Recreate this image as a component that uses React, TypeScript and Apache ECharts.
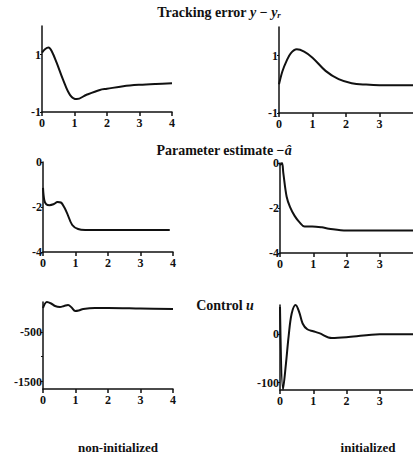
import React, { useEffect, useRef } from "react";
import * as echarts from "echarts";

// x (time) ticks
const xTicksLeft = [0, 1, 2, 3, 4];
const xTicksRight = [0, 1, 2, 3];

// Tracking error y - y_r, non-initialized
const trackNonT = [0, 0.1, 0.2, 0.3, 0.45, 0.65, 0.86, 1.07, 1.37, 1.78, 2.0, 2.5, 3.0, 3.5, 4.0];
const trackNonV = [1.07, 1.2, 1.25, 1.12, 0.72, 0.12, -0.4, -0.55, -0.4, -0.23, -0.19, -0.1, -0.05, -0.02, 0.0];

// Tracking error, initialized
const trackInitT = [0, 0.1, 0.22, 0.35, 0.53, 0.75, 1.0, 1.39, 1.78, 2.17, 2.6, 3.0, 3.5, 4.0];
const trackInitV = [0, 0.45, 0.8, 1.08, 1.22, 1.14, 0.93, 0.47, 0.18, 0.04, -0.01, -0.03, -0.03, -0.03];

// Parameter estimate -a_hat, non-initialized
const paramNonT = [0, 0.04, 0.1, 0.2, 0.32, 0.45, 0.55, 0.65, 0.74, 0.9, 1.08, 1.3, 2, 3, 3.9];
const paramNonV = [-1.15, -1.7, -1.88, -1.92, -1.88, -1.78, -1.8, -2.0, -2.27, -2.8, -2.98, -3.02, -3.02, -3.02, -3.02];

// Parameter estimate, initialized
const paramInitT = [0, 0.06, 0.1, 0.2, 0.3, 0.44, 0.59, 0.74, 0.97, 1.26, 1.47, 2, 3, 4];
const paramInitV = [-0.1, 0, -0.45, -1.5, -1.95, -2.35, -2.64, -2.82, -2.82, -2.86, -2.92, -3.0, -3.0, -3.0];

// Control u, non-initialized
const ctrlNonT = [0, 0.12, 0.25, 0.37, 0.52, 0.65, 0.77, 0.88, 0.99, 1.1, 1.24, 1.6, 2, 3, 4];
const ctrlNonV = [-20, 100, 70, 20, 0, 20, 40, -10, -80, -70, -40, -20, -20, -30, -40];

// Control u, initialized
const ctrlInitT = [0, 0.09, 0.18, 0.26, 0.35, 0.47, 0.58, 0.68, 0.82, 1.0, 1.18, 1.56, 2.06, 3, 4];
const ctrlInitV = [56, -114, -60, -4, 42, 60, 45, 22, 10, 6, 2, -8, -6, 0, 0];

// y tick labels
const yTrackTicks = [-1, 1];
const yParamTicks = [-4, -2, 0];
const yCtrlNonTicks = [-1500, -500];
const yCtrlNonTickMarks = [-1500, -1000, -500];
const yCtrlInitTicks = [-100, 0];

const titles = ["Tracking error", "Parameter estimate", "Control"];
const bottomLabels = ["non-initialized", "initialized"];

const INK = "#111";
const FONT = "'Liberation Serif', 'DejaVu Serif', serif";

function pairs(t: number[], v: number[]) {
  return t.map((x, i) => [x, v[i]]);
}

export default function App() {
  const ref = useRef<HTMLDivElement>(null);

  useEffect(() => {
    if (!ref.current) return;
    const chart = echarts.init(ref.current, undefined, { renderer: "svg" });

    const grids = [
      { left: 42, top: 26, width: 130, height: 86 },
      { left: 279, top: 27, width: 137, height: 86 },
      { left: 43, top: 162, width: 130, height: 90 },
      { left: 280, top: 163, width: 137, height: 90 },
      { left: 43, top: 302, width: 130, height: 87 },
      { left: 280, top: 305, width: 136, height: 85 },
    ];

    const yDefs = [
      { min: -1, max: 2, labels: yTrackTicks, ticks: yTrackTicks },
      { min: -1, max: 2, labels: yTrackTicks, ticks: yTrackTicks },
      { min: -4, max: 0, labels: yParamTicks, ticks: yParamTicks },
      { min: -4, max: 0, labels: yParamTicks, ticks: yParamTicks },
      { min: -1650, max: 100, labels: yCtrlNonTicks, ticks: yCtrlNonTickMarks },
      { min: -115, max: 60, labels: yCtrlInitTicks, ticks: yCtrlInitTicks },
    ];

    const seriesData = [
      pairs(trackNonT, trackNonV),
      pairs(trackInitT, trackInitV),
      pairs(paramNonT, paramNonV),
      pairs(paramInitT, paramInitV),
      pairs(ctrlNonT, ctrlNonV),
      pairs(ctrlInitT, ctrlInitV),
    ];

    const labelStyle = {
      color: INK,
      fontFamily: FONT,
      fontSize: 12,
      fontWeight: "bold" as const,
      formatter: (v: number) => String(v),
    };

    const axisLine = { show: true, onZero: false, lineStyle: { color: INK, width: 1.5 } };

    const xAxis = grids.map((_, i) => {
      const ticks = i % 2 === 0 ? xTicksLeft : xTicksRight;
      return {
        type: "value" as const,
        gridIndex: i,
        min: 0,
        max: 4,
        interval: 1,
        axisLine,
        splitLine: { show: false },
        axisTick: {
          show: true,
          length: 4,
          customValues: ticks,
          lineStyle: { color: INK, width: 1.5 },
        },
        axisLabel: { ...labelStyle, margin: 5, customValues: ticks },
      };
    });

    const yAxis = yDefs.map((d, i) => ({
      type: "value" as const,
      gridIndex: i,
      min: d.min,
      max: d.max,
      axisLine,
      splitLine: { show: false },
      axisTick: {
        show: true,
        length: 2,
        customValues: d.ticks,
        lineStyle: { color: INK, width: 1.2 },
      },
      axisLabel: { ...labelStyle, margin: 1, customValues: d.labels },
    }));

    const series = seriesData.map((data, i) => ({
      type: "line" as const,
      xAxisIndex: i,
      yAxisIndex: i,
      data,
      smooth: 0.35,
      symbol: "none",
      lineStyle: { color: INK, width: 2 },
    }));

    const textBase = {
      fill: INK,
      fontFamily: FONT,
      fontSize: 14,
      fontWeight: "bold",
      align: "center",
      verticalAlign: "middle",
    };
    const rich = {
      it: { fontFamily: FONT, fontSize: 14, fontStyle: "italic", fontWeight: "bold", fill: INK },
      sub: { fontFamily: FONT, fontSize: 9, fontStyle: "italic", fontWeight: "bold", fill: INK, padding: [5, 0, 0, 0] },
    };

    const graphic = [
      {
        type: "text",
        x: 219,
        y: 12,
        style: { ...textBase, text: titles[0] + " {it|y} − {it|y}{sub|r}", rich },
      },
      {
        type: "text",
        x: 224,
        y: 150,
        style: { ...textBase, text: titles[1] + " −{it|â}", rich },
      },
      {
        type: "text",
        x: 225,
        y: 305,
        style: { ...textBase, text: titles[2] + " {it|u}", rich },
      },
      {
        type: "text",
        x: 118,
        y: 447,
        style: { ...textBase, fontSize: 13, text: bottomLabels[0] },
      },
      {
        type: "text",
        x: 368,
        y: 447,
        style: { ...textBase, fontSize: 13, text: bottomLabels[1] },
      },
    ];

    chart.setOption({
      animation: false,
      backgroundColor: "#fff",
      grid: grids,
      xAxis,
      yAxis,
      series,
      graphic,
    });

    return () => chart.dispose();
  }, []);

  return (
    <div
      ref={ref}
      style={{ position: "fixed", left: 0, top: 0, width: 413, height: 455, background: "#fff" }}
    />
  );
}
